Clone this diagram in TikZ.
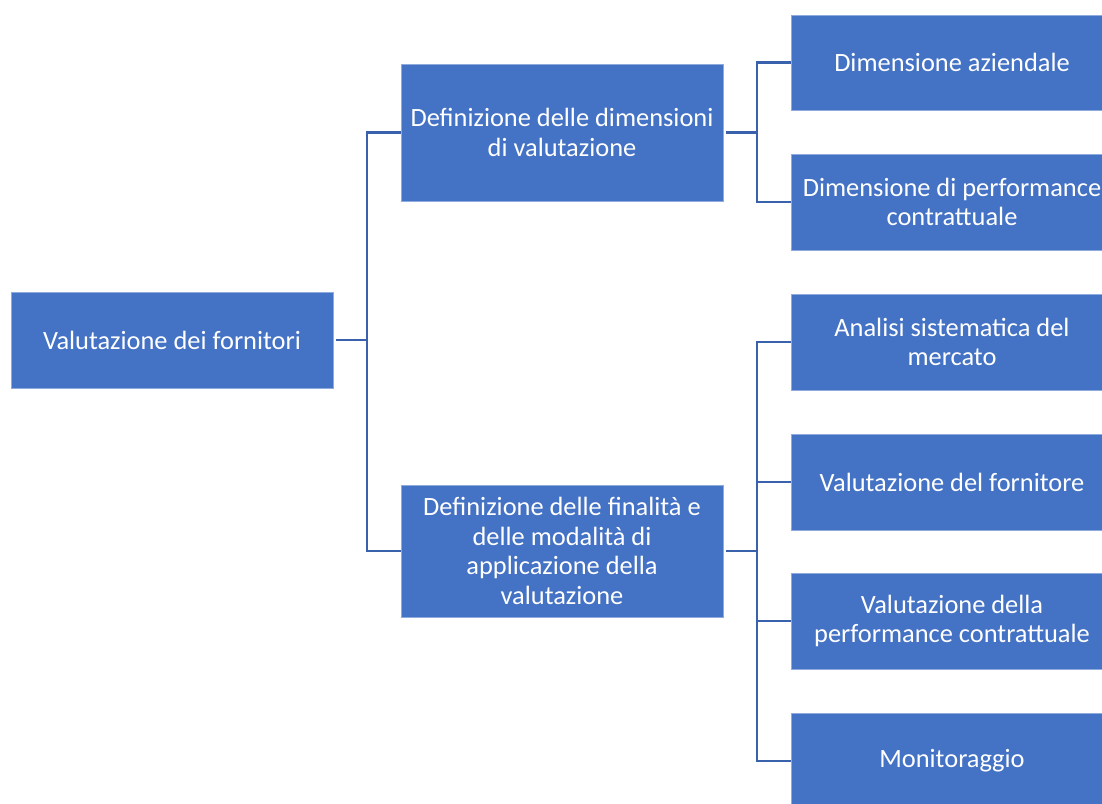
\documentclass[tikz,border=0pt]{standalone}
\usepackage{fontspec}
\setmainfont{Carlito}
\definecolor{boxblue}{HTML}{4472C4}
\definecolor{lineblue}{HTML}{3A62AC}
\begin{document}
\begin{tikzpicture}[x=1pt,y=-1pt,
  box/.style={fill=boxblue, draw=boxblue!60!white, line width=0.8pt, text=white, minimum width=322pt, align=center, inner sep=0pt,
    font=\fontsize{26.4}{29.5}\selectfont},
  conn/.style={draw=lineblue, line width=2.4pt}]
\useasboundingbox (0,0) rectangle (1102,803);
\clip (0,0) rectangle (1102,803);
\fill[white] (0,0) rectangle (1102,803);
\node[box, minimum height=96pt] (root) at (172,340) {Valutazione dei fornitori};
\node[box, minimum height=137pt] (m1) at (562,132.5) {Definizione delle dimensioni\\di valutazione};
\node[box, minimum height=132pt] (m2) at (562,551) {Definizione delle finalità e\\delle modalità di\\applicazione della\\valutazione};
\node[box, minimum height=95pt] (r1) at (952,62.5) {Dimensione aziendale};
\node[box, minimum height=96pt] (r2) at (952,202) {Dimensione di performance\\contrattuale};
\node[box, minimum height=96pt] (r3) at (952,342) {Analisi sistematica del\\mercato};
\node[box, minimum height=96pt] (r4) at (952,482) {Valutazione del fornitore};
\node[box, minimum height=96pt] (r5) at (952,621) {Valutazione della\\performance contrattuale};
\node[box, minimum height=96pt] (r6) at (952,761) {Monitoraggio};
\coordinate (j1) at (367,340);
\coordinate (j2) at (757,132.5);
\coordinate (j3) at (757,551);
\draw[conn] ([xshift=3pt]root.east) -- (j1);
\draw[conn] (j1) |- (m1.west);
\draw[conn] (j1) |- (m2.west);
\draw[conn] ([xshift=3pt]m1.east) -- (j2);
\draw[conn] (j2) |- (r1.west);
\draw[conn] (j2) |- (r2.west);
\draw[conn] ([xshift=3pt]m2.east) -- (j3);
\draw[conn] (j3) |- (r3.west);
\draw[conn] (j3) |- (r4.west);
\draw[conn] (j3) |- (r5.west);
\draw[conn] (j3) |- (r6.west);
\end{tikzpicture}
\end{document}
